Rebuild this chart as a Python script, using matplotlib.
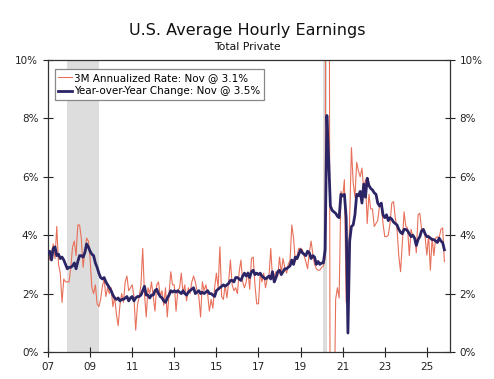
import numpy as np
import matplotlib
matplotlib.use("Agg")
import matplotlib.pyplot as plt

# monthly values, Jan 2007 .. Nov 2025 (percent)
yoy = [
    3.4, 3.45, 3.15, 3.55, 3.6, 3.3, 3.35, 3.2, 3.25, 3.15, 3.0, 2.85,   # 2007
    2.9, 2.9, 2.95, 3.05, 2.85, 3.1, 3.3, 3.3, 3.25, 3.4, 3.7, 3.6,     # 2008
    3.45, 3.35, 3.3, 3.05, 2.9, 2.7, 2.55, 2.5, 2.55, 2.4, 2.3, 2.2,    # 2009
    2.1, 1.95, 1.85, 1.8, 1.85, 1.75, 1.8, 1.8, 1.85, 1.9, 1.75, 1.85,  # 2010
    1.9, 1.75, 1.85, 1.9, 1.9, 1.95, 2.1, 2.25, 1.95, 1.95, 1.85, 1.95, # 2011
    1.95, 2.1, 2.15, 2.0, 1.9, 1.85, 1.75, 1.7, 1.85, 1.95, 2.1, 2.05,  # 2012
    2.1, 2.05, 2.1, 2.05, 2.0, 2.1, 2.0, 1.95, 2.05, 2.1, 2.15, 2.2,    # 2013
    2.0, 2.05, 2.1, 2.0, 2.05, 2.0, 2.05, 2.1, 2.0, 2.0, 1.95, 1.9,     # 2014
    2.1, 2.15, 2.2, 2.25, 2.3, 2.25, 2.3, 2.35, 2.45, 2.45, 2.4, 2.55,  # 2015
    2.55, 2.5, 2.45, 2.6, 2.7, 2.6, 2.7, 2.55, 2.75, 2.8, 2.65, 2.7,    # 2016
    2.65, 2.7, 2.6, 2.55, 2.5, 2.55, 2.6, 2.5, 2.75, 2.4, 2.55, 2.75,   # 2017
    2.8, 2.65, 2.75, 2.85, 2.85, 2.9, 2.95, 3.15, 3.0, 3.25, 3.2, 3.35, # 2018
    3.5, 3.4, 3.35, 3.3, 3.45, 3.4, 3.2, 3.3, 3.25, 3.0, 3.1, 3.0,      # 2019
    3.05, 3.05, 3.5, 8.1, 6.6, 5.0, 4.85, 4.8, 4.75, 4.65, 4.6, 5.4,    # 2020
    5.35, 5.4, 4.6, 0.65, 3.8, 4.3, 4.35, 4.7, 5.4, 5.35, 5.5, 5.1,     # 2021
    5.75, 5.3, 5.95, 5.7, 5.6, 5.55, 5.45, 5.4, 5.1, 5.0, 5.1, 4.7,     # 2022
    4.6, 4.7, 4.5, 4.6, 4.55, 4.45, 4.4, 4.35, 4.2, 4.1, 4.05, 4.2,     # 2023
    4.2, 4.15, 4.05, 3.95, 4.0, 3.9, 3.65, 3.85, 3.95, 4.15, 4.2, 4.05, # 2024
    3.95, 3.95, 3.9, 3.85, 3.85, 3.8, 3.75, 3.9, 3.8, 3.75, 3.5,        # 2025
]

ann3m = [
    3.5, 3.15, 3.4, 3.7, 3.2, 4.3, 3.0, 2.7, 1.7, 2.5, 2.4, 2.4,        # 2007
    2.4, 2.9, 3.6, 3.8, 3.3, 4.35, 4.35, 3.9, 2.9, 3.4, 3.9, 3.8,       # 2008
    3.2, 2.2, 2.0, 2.3, 1.65, 1.55, 1.8, 2.25, 2.5, 1.9, 2.2, 2.0,      # 2009
    2.2, 1.55, 1.9, 1.3, 0.9, 1.6, 2.0, 1.7, 2.4, 2.6, 2.1, 2.2,        # 2010
    2.3, 1.9, 0.75, 1.6, 1.9, 2.3, 3.55, 2.0, 1.2, 2.2, 2.0, 2.4,       # 2011
    1.9, 1.4, 2.3, 2.4, 1.9, 2.1, 1.6, 2.2, 1.2, 2.0, 2.75, 2.3,        # 2012
    2.3, 1.4, 2.1, 2.2, 2.7, 2.0, 2.3, 1.75, 2.2, 2.0, 2.4, 2.6,        # 2013
    2.4, 2.1, 1.9, 1.2, 2.4, 2.1, 2.3, 2.0, 1.4, 1.8, 1.5, 2.2,         # 2014
    2.7, 2.2, 3.6, 1.9, 1.8, 2.3, 1.85, 2.4, 3.15, 2.3, 2.1, 2.2,       # 2015
    2.0, 2.75, 3.15, 2.4, 2.2, 2.4, 2.75, 2.15, 3.2, 3.25, 2.3, 1.65,   # 2016
    1.65, 2.7, 2.4, 2.7, 2.2, 2.5, 2.6, 3.55, 2.5, 2.6, 2.75, 2.6,      # 2017
    3.25, 2.7, 3.2, 2.9, 2.7, 3.0, 3.15, 4.35, 3.9, 3.1, 3.3, 3.55,     # 2018
    3.55, 3.5, 3.3, 3.1, 2.85, 3.4, 3.8, 3.35, 3.0, 2.85, 2.8, 2.8,     # 2019
    2.9, 2.95, 3.2, 33.0, 26.0, -8.0, -6.0, -3.0, 1.8, 2.2, 1.85, 5.5,  # 2020
    5.3, 5.9, 1.7, 2.2, 4.6, 7.0, 5.8, 5.3, 6.5, 6.2, 6.0, 6.3,         # 2021
    5.55, 5.9, 4.4, 5.4, 4.9, 4.9, 4.3, 4.4, 4.5, 5.0, 5.1, 4.4,        # 2022
    3.95, 3.95, 4.0, 4.4, 5.1, 5.15, 4.6, 4.2, 3.3, 2.75, 3.7, 4.8,     # 2023
    4.3, 4.25, 3.3, 4.2, 3.95, 3.95, 3.4, 4.7, 4.75, 4.2, 4.2, 3.95,    # 2024
    3.32, 4.0, 2.8, 3.9, 3.3, 3.9, 3.95, 3.9, 4.2, 4.25, 3.1,           # 2025
]

start_year = 2007
recessions = [(2007 + 11/12, 2009 + 5/12), (2020 + 1/12, 2020 + 3/12)]
tick_years = list(range(2007, 2026, 2))
tick_labels = ["%02d" % (y % 100) for y in tick_years]
y_ticks = [0, 2, 4, 6, 8, 10]

x = start_year + np.arange(len(yoy)) / 12.0

fig = plt.figure(figsize=(4.94, 3.79), dpi=100)
ax = fig.add_axes([48/494, 1 - 352/379, 402/494, 292/379])

for a, b in recessions:
    ax.axvspan(a, b, color="#dddddd", lw=0, zorder=0)

ax.plot(x, ann3m, color="#e8705a", lw=0.8, zorder=2,
        label="3M Annualized Rate: Nov @ 3.1%")
ax.plot(x, yoy, color="#2b2566", lw=2.0, zorder=3,
        label="Year-over-Year Change: Nov @ 3.5%")

ax.set_xlim(2007, 2026.1)
ax.set_ylim(0, 10)
ax.set_xticks(tick_years)
ax.set_xticklabels(tick_labels)
ax.set_yticks(y_ticks)
ax.set_yticklabels(["%d%%" % v for v in y_ticks])
ax.tick_params(axis="both", direction="inout", length=7, width=0.8,
               labelsize=7.5, colors="#222222",
               right=True, labelright=True)
for s in ax.spines.values():
    s.set_color("#333333")
    s.set_linewidth(0.9)

leg = ax.legend(loc="upper left", bbox_to_anchor=(0.017, 0.969),
                borderaxespad=0, fontsize=7.5, handlelength=1.3,
                handletextpad=0.2, fancybox=False, framealpha=1,
                edgecolor="#888888", borderpad=0.35, labelspacing=0.35)
leg.get_frame().set_linewidth(0.9)

fig.text(0.5, 1 - 31/379, "U.S. Average Hourly Earnings", ha="center",
         va="center", fontsize=11.5, color="#111111")
fig.text(0.5, 1 - 47/379, "Total Private", ha="center", va="center",
         fontsize=7.8, color="#111111")

fig.savefig("out.png", dpi=100)
